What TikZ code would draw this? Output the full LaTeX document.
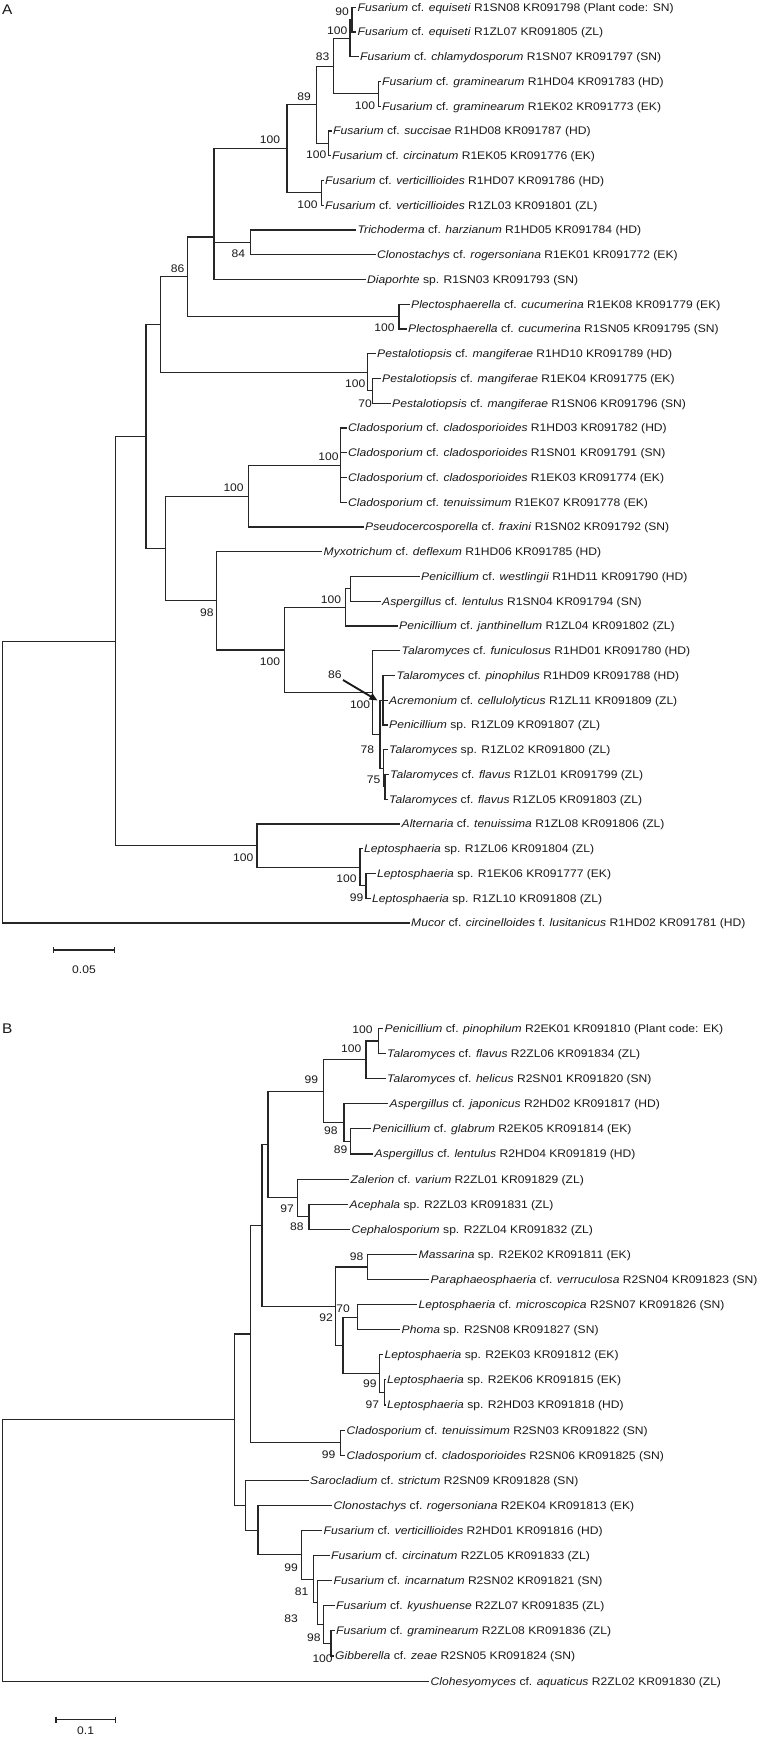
\documentclass[tikz,border=0pt]{standalone}
\usepackage{fontspec}
\newfontfamily\lbf[FakeStretch=1.10]{Liberation Sans}
\usetikzlibrary{arrows.meta}
\newcommand\lf[4]{\coordinate (#1) at (#2,#3); \node[lab] (#1t) at (#1) {#4};}
\newcommand\bsl[4]{\node[bs] (#1) at (#2,#3) {#4};}
\begin{document}
\begin{tikzpicture}[x=0.75pt,y=-0.75pt,
 br/.style={line width=0.85pt, draw=black!85},
 lab/.style={anchor=west, inner xsep=1.1pt, inner ysep=0pt, text=black!90, font=\lbf\fontsize{8.25pt}{9pt}\selectfont, text height=5.9pt, text depth=0pt},
 bs/.style={inner sep=0pt, text=black!90, font=\lbf\fontsize{8.25pt}{9pt}\selectfont, text height=5.9pt, text depth=0pt},
 pan/.style={inner sep=0pt, text=black!90, font=\lbf\fontsize{10.5pt}{12pt}\selectfont, text height=7.5pt, text depth=0pt},
 arr/.style={line width=1.4pt, draw=black!90, -{Triangle[length=6pt,width=5pt]}}]
\fill[white] (0,0) rectangle (763,1737);
\useasboundingbox (0,0) rectangle (763,1737);

% ---------------- Panel A ----------------
\node[pan] (pA) at (7.3,10) {A};
\lf{a1}{356}{7.3}{\textit{Fusarium} cf. \textit{equiseti} R1SN08 KR091798 (Plant code: SN)}
\lf{a2}{356}{32.05}{\textit{Fusarium} cf. \textit{equiseti} R1ZL07 KR091805 (ZL)}
\lf{a3}{358.5}{56.8}{\textit{Fusarium} cf. \textit{chlamydosporum} R1SN07 KR091797 (SN)}
\lf{a4}{380.5}{81.55}{\textit{Fusarium} cf. \textit{graminearum} R1HD04 KR091783 (HD)}
\lf{a5}{380.5}{106.3}{\textit{Fusarium} cf. \textit{graminearum} R1EK02 KR091773 (EK)}
\lf{a6}{331.5}{131.05}{\textit{Fusarium} cf. \textit{succisae} R1HD08 KR091787 (HD)}
\lf{a7}{330.5}{155.8}{\textit{Fusarium} cf. \textit{circinatum} R1EK05 KR091776 (EK)}
\lf{a8}{323.5}{180.55}{\textit{Fusarium} cf. \textit{verticillioides} R1HD07 KR091786 (HD)}
\lf{a9}{323.5}{205.3}{\textit{Fusarium} cf. \textit{verticillioides} R1ZL03 KR091801 (ZL)}
\lf{a10}{356}{230.05}{\textit{Trichoderma} cf. \textit{harzianum} R1HD05 KR091784 (HD)}
\lf{a11}{375.5}{254.8}{\textit{Clonostachys} cf. \textit{rogersoniana} R1EK01 KR091772 (EK)}
\lf{a12}{365.5}{279.55}{\textit{Diaporhte} sp. R1SN03 KR091793 (SN)}
\lf{a13}{409.5}{304.3}{\textit{Plectosphaerella} cf. \textit{cucumerina} R1EK08 KR091779 (EK)}
\lf{a14}{406.5}{329.05}{\textit{Plectosphaerella} cf. \textit{cucumerina} R1SN05 KR091795 (SN)}
\lf{a15}{375.5}{353.8}{\textit{Pestalotiopsis} cf. \textit{mangiferae} R1HD10 KR091789 (HD)}
\lf{a16}{380.5}{378.55}{\textit{Pestalotiopsis} cf. \textit{mangiferae} R1EK04 KR091775 (EK)}
\lf{a17}{390.5}{403.3}{\textit{Pestalotiopsis} cf. \textit{mangiferae} R1SN06 KR091796 (SN)}
\lf{a18}{346.5}{428.05}{\textit{Cladosporium} cf. \textit{cladosporioides} R1HD03 KR091782 (HD)}
\lf{a19}{346.5}{452.8}{\textit{Cladosporium} cf. \textit{cladosporioides} R1SN01 KR091791 (SN)}
\lf{a20}{346.5}{477.55}{\textit{Cladosporium} cf. \textit{cladosporioides} R1EK03 KR091774 (EK)}
\lf{a21}{346.5}{502.3}{\textit{Cladosporium} cf. \textit{tenuissimum} R1EK07 KR091778 (EK)}
\lf{a22}{363.5}{527.05}{\textit{Pseudocercosporella} cf. \textit{fraxini} R1SN02 KR091792 (SN)}
\lf{a23}{322}{551.8}{\textit{Myxotrichum} cf. \textit{deflexum} R1HD06 KR091785 (HD)}
\lf{a24}{419.5}{576.55}{\textit{Penicillium} cf. \textit{westlingii} R1HD11 KR091790 (HD)}
\lf{a25}{380.5}{601.3}{\textit{Aspergillus} cf. \textit{lentulus} R1SN04 KR091794 (SN)}
\lf{a26}{397.5}{626.05}{\textit{Penicillium} cf. \textit{janthinellum} R1ZL04 KR091802 (ZL)}
\lf{a27}{400}{650.8}{\textit{Talaromyces} cf. \textit{funiculosus} R1HD01 KR091780 (HD)}
\lf{a28}{395}{675.55}{\textit{Talaromyces} cf. \textit{pinophilus} R1HD09 KR091788 (HD)}
\lf{a29}{387.5}{700.3}{\textit{Acremonium} cf. \textit{cellulolyticus} R1ZL11 KR091809 (ZL)}
\lf{a30}{387.5}{725.05}{\textit{Penicillium} sp. R1ZL09 KR091807 (ZL)}
\lf{a31}{387.5}{749.8}{\textit{Talaromyces} sp. R1ZL02 KR091800 (ZL)}
\lf{a32}{388.5}{774.55}{\textit{Talaromyces} cf. \textit{flavus} R1ZL01 KR091799 (ZL)}
\lf{a33}{387.5}{799.3}{\textit{Talaromyces} cf. \textit{flavus} R1ZL05 KR091803 (ZL)}
\lf{a34}{400}{824.05}{\textit{Alternaria} cf. \textit{tenuissima} R1ZL08 KR091806 (ZL)}
\lf{a35}{362.5}{848.8}{\textit{Leptosphaeria} sp. R1ZL06 KR091804 (ZL)}
\lf{a36}{375.5}{873.55}{\textit{Leptosphaeria} sp. R1EK06 KR091777 (EK)}
\lf{a37}{370.5}{898.3}{\textit{Leptosphaeria} sp. R1ZL10 KR091808 (ZL)}
\lf{a38}{409.5}{923.05}{\textit{Mucor} cf. \textit{circinelloides} f. \textit{lusitanicus} R1HD02 KR091781 (HD)}

\coordinate (n12) at (352,19.7);
\coordinate (n123) at (350,38.25);
\coordinate (ngram) at (378.6,93.9);
\coordinate (N83) at (333.3,66.1);
\coordinate (n67) at (328.5,143.4);
\coordinate (N89) at (316.3,104.75);
\coordinate (nvert) at (321.5,192.9);
\coordinate (N100F) at (287,148.8);
\coordinate (ntc) at (250.6,242.4);
\coordinate (Nb) at (214,237);
\coordinate (nPl) at (399,316.7);
\coordinate (N86) at (187.3,276.85);
\coordinate (p23) at (372.3,390.9);
\coordinate (nPe) at (367.4,372.35);
\coordinate (P160) at (160.6,324.6);
\coordinate (nCl) at (340.6,465.2);
\coordinate (CP) at (248.2,496.1);
\coordinate (WA) at (350.4,588.9);
\coordinate (PA) at (345.5,607.5);
\coordinate (T3) at (383,700.3);
\coordinate (T5) at (385,786.9);
\coordinate (T4) at (383.5,768.35);
\coordinate (T2) at (380,734.3);
\coordinate (TalN) at (372.3,692.55);
\coordinate (PenN) at (284.7,650);
\coordinate (Mn) at (216.5,600.9);
\coordinate (Yn) at (165.5,548.5);
\coordinate (Xn) at (146,436.55);
\coordinate (L2) at (366,885.9);
\coordinate (Ln) at (360,867.35);
\coordinate (AL) at (257,845.7);
\coordinate (IA) at (115.3,641.1);
\coordinate (rA) at (2.4,782);

\foreach \p/\c in {n12/a1,n12/a2,n123/n12,n123/a3,ngram/a4,ngram/a5,N83/n123,N83/ngram,
  n67/a6,n67/a7,N89/N83,N89/n67,nvert/a8,nvert/a9,N100F/N89,N100F/nvert,ntc/a10,ntc/a11,
  Nb/N100F,Nb/ntc,Nb/a12,nPl/a13,nPl/a14,N86/Nb,N86/nPl,p23/a16,p23/a17,nPe/a15,nPe/p23,
  P160/N86,P160/nPe,nCl/a18,nCl/a19,nCl/a20,nCl/a21,CP/nCl,CP/a22,WA/a24,WA/a25,PA/WA,PA/a26,
  T3/a28,T3/a29,T3/a30,T5/a32,T5/a33,T4/a31,T4/T5,T2/T3,T2/T4,TalN/a27,TalN/T2,PenN/PA,PenN/TalN,
  Mn/a23,Mn/PenN,Yn/CP,Yn/Mn,Xn/P160,Xn/Yn,L2/a36,L2/a37,Ln/a35,Ln/L2,AL/a34,AL/Ln,IA/Xn,IA/AL,
  rA/IA,rA/a38}
  \draw[br] (\p) |- (\c);

\bsl{sa1}{342}{11.7}{90}
\bsl{sa2}{337.2}{30.7}{100}
\bsl{sa3}{322.6}{56.7}{83}
\bsl{sa4}{365}{106}{100}
\bsl{sa5}{304.1}{96.7}{89}
\bsl{sa6}{270}{140}{100}
\bsl{sa7}{316.3}{155}{100}
\bsl{sa8}{307.5}{204.3}{100}
\bsl{sa9}{238.4}{253.3}{84}
\bsl{sa10}{177.6}{269}{86}
\bsl{sa11}{384.4}{327.3}{100}
\bsl{sa12}{355.2}{383.3}{100}
\bsl{sa13}{365}{403.3}{70}
\bsl{sa14}{328.5}{456.7}{100}
\bsl{sa15}{233.6}{487.7}{100}
\bsl{sa16}{330.9}{600}{100}
\bsl{sa17}{206.8}{612.3}{98}
\bsl{sa18}{270}{661.7}{100}
\bsl{sa19}{334.8}{674.3}{86}
\bsl{sa20}{360.1}{705}{100}
\bsl{sa21}{367.4}{750}{78}
\bsl{sa22}{373.7}{779.3}{75}
\bsl{sa23}{243.3}{857.7}{100}
\bsl{sa24}{346.5}{878.3}{100}
\bsl{sa25}{356.7}{897.3}{99}
\coordinate (arrS) at (343,680);
\coordinate (arrE) at (377.5,700.5);
\draw[arr] (arrS) -- (arrE);

% scale bar A
\coordinate (sbA1) at (53.5,950);
\coordinate (sbA2) at (114.4,950);
\draw[br] (sbA1) -- (sbA2);
\draw[br] ([yshift=2.2pt]sbA1) -- ([yshift=-2.2pt]sbA1);
\draw[br] ([yshift=2.2pt]sbA2) -- ([yshift=-2.2pt]sbA2);
\bsl{sbAt}{84}{970}{0.05}

% ---------------- Panel B ----------------
\node[pan] (pB) at (7.3,1028) {B};
\lf{b1}{383}{1028.5}{\textit{Penicillium} cf. \textit{pinophilum} R2EK01 KR091810 (Plant code: EK)}
\lf{b2}{385.5}{1053.6}{\textit{Talaromyces} cf. \textit{flavus} R2ZL06 KR091834 (ZL)}
\lf{b3}{385.5}{1078.7}{\textit{Talaromyces} cf. \textit{helicus} R2SN01 KR091820 (SN)}
\lf{b4}{388}{1103.8}{\textit{Aspergillus} cf. \textit{japonicus} R2HD02 KR091817 (HD)}
\lf{b5}{371}{1128.9}{\textit{Penicillium} cf. \textit{glabrum} R2EK05 KR091814 (EK)}
\lf{b6}{373}{1154.0}{\textit{Aspergillus} cf. \textit{lentulus} R2HD04 KR091819 (HD)}
\lf{b7}{349}{1179.1}{\textit{Zalerion} cf. \textit{varium} R2ZL01 KR091829 (ZL)}
\lf{b8}{348}{1204.2}{\textit{Acephala} sp. R2ZL03 KR091831 (ZL)}
\lf{b9}{350}{1229.3}{\textit{Cephalosporium} sp. R2ZL04 KR091832 (ZL)}
\lf{b10}{417}{1254.4}{\textit{Massarina} sp. R2EK02 KR091811 (EK)}
\lf{b11}{429}{1279.5}{\textit{Paraphaeosphaeria} cf. \textit{verruculosa} R2SN04 KR091823 (SN)}
\lf{b12}{417}{1304.6}{\textit{Leptosphaeria} cf. \textit{microscopica} R2SN07 KR091826 (SN)}
\lf{b13}{400}{1329.7}{\textit{Phoma} sp. R2SN08 KR091827 (SN)}
\lf{b14}{383}{1354.8}{\textit{Leptosphaeria} sp. R2EK03 KR091812 (EK)}
\lf{b15}{385.5}{1379.9}{\textit{Leptosphaeria} sp. R2EK06 KR091815 (EK)}
\lf{b16}{385.5}{1405.0}{\textit{Leptosphaeria} sp. R2HD03 KR091818 (HD)}
\lf{b17}{345}{1430.1}{\textit{Cladosporium} cf. \textit{tenuissimum} R2SN03 KR091822 (SN)}
\lf{b18}{345}{1455.2}{\textit{Cladosporium} cf. \textit{cladosporioides} R2SN06 KR091825 (SN)}
\lf{b19}{308.5}{1480.3}{\textit{Sarocladium} cf. \textit{strictum} R2SN09 KR091828 (SN)}
\lf{b20}{332}{1505.4}{\textit{Clonostachys} cf. \textit{rogersoniana} R2EK04 KR091813 (EK)}
\lf{b21}{322}{1530.5}{\textit{Fusarium} cf. \textit{verticillioides} R2HD01 KR091816 (HD)}
\lf{b22}{329.5}{1555.6}{\textit{Fusarium} cf. \textit{circinatum} R2ZL05 KR091833 (ZL)}
\lf{b23}{332}{1580.7}{\textit{Fusarium} cf. \textit{incarnatum} R2SN02 KR091821 (SN)}
\lf{b24}{334.5}{1605.8}{\textit{Fusarium} cf. \textit{kyushuense} R2ZL07 KR091835 (ZL)}
\lf{b25}{334.5}{1630.9}{\textit{Fusarium} cf. \textit{graminearum} R2ZL08 KR091836 (ZL)}
\lf{b26}{333.5}{1656.0}{\textit{Gibberella} cf. \textit{zeae} R2SN05 KR091824 (SN)}
\lf{b27}{429}{1681.1}{\textit{Clohesyomyces} cf. \textit{aquaticus} R2ZL02 KR091830 (ZL)}

\coordinate (m12) at (378.6,1041.05);
\coordinate (m123) at (366,1059.9);
\coordinate (mPA) at (350.4,1141.45);
\coordinate (mAsp) at (344,1122.6);
\coordinate (m99) at (323.6,1091.25);
\coordinate (mAC) at (309,1216.75);
\coordinate (mZAC) at (297.8,1197.9);
\coordinate (mU) at (268,1144.6);
\coordinate (mMP) at (367.4,1266.95);
\coordinate (mLP) at (357.7,1317.15);
\coordinate (mL4) at (384.4,1392.45);
\coordinate (mL3) at (379.6,1373.6);
\coordinate (mW2) at (343,1345.4);
\coordinate (mW) at (335.8,1306.2);
\coordinate (mV) at (262,1225.4);
\coordinate (mCl) at (340.6,1442.65);
\coordinate (mR) at (250.6,1334);
\coordinate (mF5) at (331,1643.45);
\coordinate (mF4) at (323.6,1624.6);
\coordinate (mF3) at (317.3,1602.65);
\coordinate (mF2) at (313.9,1579.1);
\coordinate (mFus) at (301.7,1554.8);
\coordinate (mT) at (258,1530.1);
\coordinate (mS) at (245.7,1505.2);
\coordinate (mIB) at (234.5,1419.6);
\coordinate (mrB) at (2.4,1550.35);

\foreach \p/\c in {m12/b1,m12/b2,m123/m12,m123/b3,mPA/b5,mPA/b6,mAsp/b4,mAsp/mPA,m99/m123,m99/mAsp,
  mAC/b8,mAC/b9,mZAC/b7,mZAC/mAC,mU/m99,mU/mZAC,mMP/b10,mMP/b11,mLP/b12,mLP/b13,mL4/b15,mL4/b16,
  mL3/b14,mL3/mL4,mW2/mLP,mW2/mL3,mW/mMP,mW/mW2,mV/mU,mV/mW,mCl/b17,mCl/b18,mR/mV,mR/mCl,
  mF5/b25,mF5/b26,mF4/b24,mF4/mF5,mF3/b23,mF3/mF4,mF2/b22,mF2/mF3,mFus/b21,mFus/mF2,mT/b20,mT/mFus,
  mS/b19,mS/mT,mIB/mR,mIB/mS,mrB/mIB,mrB/b27}
  \draw[br] (\p) |- (\c);

\bsl{sb1}{362.5}{1030}{100}
\bsl{sb2}{351.3}{1048.3}{100}
\bsl{sb3}{311.4}{1080}{99}
\bsl{sb4}{330.9}{1131}{98}
\bsl{sb5}{340.6}{1150}{89}
\bsl{sb6}{287.1}{1208.3}{97}
\bsl{sb7}{296.8}{1226.7}{88}
\bsl{sb8}{356.7}{1256.7}{98}
\bsl{sb9}{343}{1308.3}{70}
\bsl{sb10}{326}{1317.7}{92}
\bsl{sb11}{369.8}{1384}{99}
\bsl{sb12}{372.3}{1404.3}{97}
\bsl{sb13}{328.5}{1455}{99}
\bsl{sb14}{291}{1567.3}{99}
\bsl{sb15}{301.7}{1591.7}{81}
\bsl{sb16}{291}{1618.7}{83}
\bsl{sb17}{313.9}{1638}{98}
\bsl{sb18}{322.6}{1658.7}{100}

% scale bar B
\coordinate (sbB1) at (56,1719.7);
\coordinate (sbB2) at (115.3,1719.7);
\draw[br] (sbB1) -- (sbB2);
\draw[br] ([yshift=2.2pt]sbB1) -- ([yshift=-2.2pt]sbB1);
\draw[br] ([yshift=2.2pt]sbB2) -- ([yshift=-2.2pt]sbB2);
\bsl{sbBt}{85.6}{1731}{0.1}
\end{tikzpicture}
\end{document}
